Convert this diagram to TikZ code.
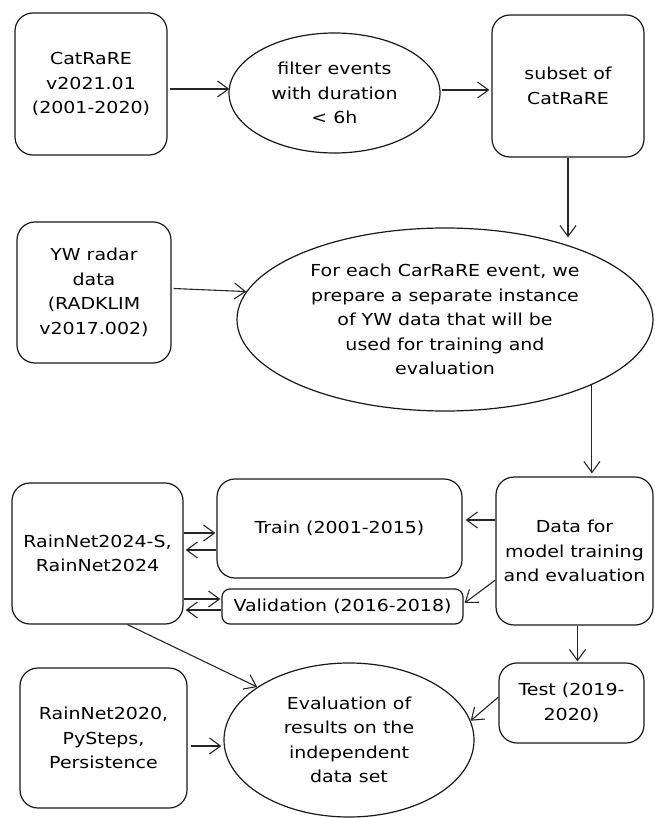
\documentclass[tikz,border=0pt]{standalone}
\usepackage{fontspec}
\setmainfont[FakeStretch=1.15]{DejaVu Sans}
\usetikzlibrary{shapes.geometric,arrows.meta,calc}
\begin{document}
\begin{tikzpicture}[x=1pt,y=-1pt,
  every node/.style={font=\fontsize{16.5}{24.5}\selectfont, align=center, line width=1.2pt, draw=black!90},
  rbox/.style={rectangle, rounded corners=18pt, inner sep=0pt},
  oval/.style={ellipse, inner sep=0pt},
  arr/.style={line width=1.1pt, draw=black!85, -{Straight Barb[length=11pt,width=16pt,line width=1.1pt]}}
]
\useasboundingbox (0,0) rectangle (654,818);

\node[rbox, minimum width=152pt, minimum height=142pt] (cat) at (91,84) {CatRaRE\\v2021.01\\(2001-2020)};
\node[oval, minimum width=211pt, minimum height=120pt] (filt) at (334.5,93) {filter events\\with duration\\< 6h};
\node[rbox, minimum width=152pt, minimum height=142pt] (sub) at (568,86) {subset of\\CatRaRE};

\node[rbox, minimum width=154pt, minimum height=141pt] (yw) at (94,292.5) {YW radar\\data\\(RADKLIM\\v2017.002)};
\node[oval, minimum width=416pt, minimum height=183pt] (prep) at (445,319.5) {For each CarRaRE event, we\\prepare a separate instance\\of YW data that will be\\used for training and\\evaluation};

\node[rbox, minimum width=171pt, minimum height=141pt] (rn) at (97.5,553.5) {RainNet2024-S,\\RainNet2024};
\node[rbox, minimum width=245pt, minimum height=99pt] (train) at (339.5,528.5) {Train (2001-2015)};
\node[rbox, rounded corners=8pt, minimum width=241pt, minimum height=35pt] (val) at (342.5,606.5) {Validation (2016-2018)};
\node[rbox, minimum width=157pt, minimum height=148pt] (data) at (574.5,551) {Data for\\model training\\and evaluation};

\node[rbox, minimum width=145pt, minimum height=80pt] (test) at (571.5,703) {Test (2019-\\2020)};
\node[oval, minimum width=250pt, minimum height=154pt] (eval) at (349,740) {Evaluation of\\results on the\\independent\\data set};
\node[rbox, minimum width=167pt, minimum height=140pt] (rn20) at (103.5,738) {RainNet2020,\\PySteps,\\Persistence};

% connectors
\draw[arr] ($(cat.east)+(2,5)$) -- ($(cat.east -| filt.west)+(1,5)$);
\draw[arr] ($(filt.east)+(1,-3)$) -- ($(filt.east -| sub.west)+(-2,-3)$);
\draw[arr] (sub.south) -- ($(sub.south |- prep.north)+(0,10)$);
\draw[arr] ($(yw.east)+(2,-4)$) -- (prep.172);
\draw[arr] (prep.-24) -- ($(prep.-24 |- data.north)+(0,-3)$);

\draw[arr] ($(data.west)+(0,-31)$) -- ($(train.east)+(3,-8.5)$);
\draw[arr] ($(data.west)+(0,29)$) -- ($(val.east)+(1,-3.5)$);
\draw[arr] ($(rn.east)+(0,-20.5)$) -- ($(train.west)+(-1,4.5)$);
\draw[arr] ($(train.west)+(0,21.5)$) -- ($(rn.east)+(2,-3.5)$);
\draw[arr] ($(rn.east)+(0,45.5)$) -- ($(val.west)+(-1,-7.5)$);
\draw[arr] ($(val.west)+(0,3.5)$) -- ($(rn.east)+(2,56.5)$);

\draw[arr] ($(data.south)+(3,0)$) -- ($(data.south |- test.north)+(3,-1)$);
\draw[arr] ($(rn.south)+(30,0)$) -- (eval.150);
\draw[arr] ($(rn20.east)+(3,8)$) -- ($(eval.west)+(-2,6)$);
\draw[arr] ($(test.west)+(0,-6)$) -- (eval.9);
\end{tikzpicture}
\end{document}
